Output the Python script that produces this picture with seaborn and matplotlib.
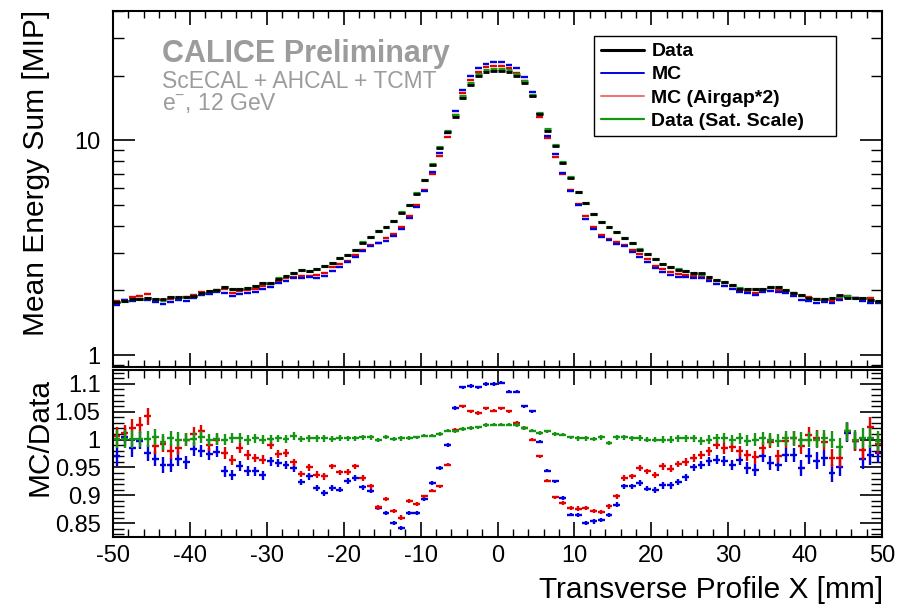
import numpy as np
import pandas as pd
import matplotlib
matplotlib.use("Agg")
import matplotlib.pyplot as plt
import seaborn as sns
from matplotlib.ticker import MultipleLocator, FixedLocator, LogLocator, NullFormatter, FuncFormatter
from matplotlib.lines import Line2D

# ---------------- data ----------------
x_min, x_max, bin_width = -50.0, 50.0, 1.0

data_sum = [1.77, 1.79, 1.82, 1.83, 1.84, 1.82, 1.82, 1.86, 1.86, 1.87,
            1.88, 1.94, 1.98, 2.01, 2.07, 2.02, 2.02, 2.06, 2.09, 2.17,
            2.17, 2.27, 2.33, 2.40, 2.48, 2.47, 2.51, 2.59, 2.69, 2.82,
            2.92, 3.07, 3.33, 3.55, 3.78, 3.93, 4.22, 4.61, 4.99, 5.65,
            6.52, 7.71, 9.21, 10.9, 12.9, 15.7, 18.1, 19.9, 20.7, 21.0,
            21.0, 20.7, 19.9, 18.5, 16.0, 13.3, 11.1, 9.38, 7.84, 6.70,
            5.75, 5.08, 4.53, 4.16, 3.96, 3.73, 3.50, 3.31, 3.10, 2.97,
            2.79, 2.65, 2.56, 2.50, 2.47, 2.41, 2.40, 2.30, 2.23, 2.19,
            2.12, 2.04, 2.04, 2.02, 2.02, 2.07, 2.07, 2.00, 1.94, 1.90,
            1.85, 1.82, 1.82, 1.85, 1.91, 1.85, 1.85, 1.85, 1.80, 1.79]

ratio_mc = [0.970, 1.005, 0.985, 0.998, 0.976, 0.966, 0.954, 0.954, 0.966, 0.959,
            0.983, 0.979, 0.974, 0.978, 0.943, 0.936, 0.952, 0.943, 0.943, 0.936,
            0.961, 0.958, 0.954, 0.949, 0.924, 0.934, 0.913, 0.904, 0.913, 0.910,
            0.926, 0.931, 0.914, 0.908, 0.877, 0.868, 0.850, 0.841, 0.868, 0.868,
            0.893, 0.922, 0.949, 0.990, 1.057, 1.094, 1.096, 1.094, 1.100, 1.100,
            1.102, 1.086, 1.086, 1.060, 1.051, 0.996, 0.944, 0.925, 0.895, 0.865,
            0.865, 0.850, 0.853, 0.856, 0.865, 0.883, 0.916, 0.916, 0.922, 0.912,
            0.909, 0.918, 0.918, 0.924, 0.932, 0.950, 0.955, 0.961, 0.964, 0.961,
            0.955, 0.964, 0.949, 0.946, 0.970, 0.958, 0.955, 0.972, 0.972, 0.949,
            0.970, 0.962, 0.967, 0.940, 0.950, 1.012, 0.997, 0.966, 0.972, 0.976]

ratio_airgap = [1.006, 1.011, 1.021, 1.026, 1.042, 0.988, 0.992, 0.979, 0.985, 1.000,
                1.010, 1.016, 0.990, 1.000, 0.976, 0.964, 0.985, 0.972, 0.967, 0.964,
                0.991, 0.974, 0.976, 0.959, 0.938, 0.950, 0.937, 0.934, 0.952, 0.941,
                0.942, 0.952, 0.931, 0.916, 0.878, 0.893, 0.872, 0.860, 0.890, 0.884,
                0.898, 0.908, 0.916, 0.955, 1.018, 1.060, 1.051, 1.048, 1.056, 1.052,
                1.056, 1.051, 1.030, 1.021, 1.000, 0.970, 0.926, 0.896, 0.886, 0.877,
                0.876, 0.877, 0.872, 0.870, 0.880, 0.898, 0.931, 0.934, 0.949, 0.943,
                0.936, 0.952, 0.948, 0.956, 0.960, 0.967, 0.972, 0.979, 0.991, 0.984,
                0.986, 0.979, 0.972, 0.968, 0.985, 0.996, 0.970, 0.997, 1.003, 0.988,
                1.009, 1.002, 0.996, 0.967, 0.967, 1.015, 0.997, 0.982, 1.022, 0.992]

ratio_sat = [1.001, 1.001, 1.001, 1.001, 1.001, 1.005, 0.996, 1.002, 1.000, 1.000,
             1.001, 1.004, 0.999, 1.001, 1.000, 1.002, 1.002, 1.000, 1.002, 1.000,
             1.001, 1.002, 1.001, 1.006, 1.001, 1.002, 1.002, 1.002, 1.001, 1.003,
             1.002, 1.002, 1.004, 1.004, 0.999, 1.005, 1.001, 1.002, 1.003, 1.004,
             1.007, 1.007, 1.010, 1.016, 1.015, 1.019, 1.021, 1.022, 1.026, 1.027,
             1.027, 1.027, 1.026, 1.021, 1.016, 1.012, 1.015, 1.010, 1.009, 1.004,
             1.002, 1.002, 1.001, 1.004, 0.994, 1.004, 1.004, 1.002, 1.003, 1.000,
             1.000, 1.000, 1.000, 1.002, 1.002, 1.002, 0.998, 1.000, 1.002, 1.002,
             1.000, 1.002, 0.998, 1.000, 1.002, 1.000, 0.998, 1.002, 1.002, 1.000,
             1.000, 1.000, 1.002, 1.000, 0.986, 1.015, 1.000, 1.002, 1.002, 0.997]

ratio_err = [0.017, 0.016, 0.016, 0.015, 0.015, 0.014, 0.014, 0.013, 0.013, 0.012,
             0.012, 0.011, 0.011, 0.010, 0.010, 0.009, 0.009, 0.009, 0.008, 0.008,
             0.008, 0.007, 0.007, 0.007, 0.006, 0.006, 0.006, 0.006, 0.005, 0.005,
             0.005, 0.005, 0.005, 0.004, 0.004, 0.004, 0.004, 0.004, 0.004, 0.003,
             0.003, 0.003, 0.003, 0.003, 0.003, 0.003, 0.003, 0.003, 0.003, 0.003,
             0.003, 0.003, 0.003, 0.003, 0.003, 0.003, 0.003, 0.003, 0.003, 0.003,
             0.004, 0.004, 0.004, 0.004, 0.004, 0.004, 0.005, 0.005, 0.005, 0.005,
             0.005, 0.006, 0.006, 0.006, 0.007, 0.007, 0.007, 0.008, 0.008, 0.009,
             0.009, 0.010, 0.010, 0.011, 0.011, 0.012, 0.012, 0.013, 0.013, 0.014,
             0.014, 0.015, 0.015, 0.016, 0.016, 0.017, 0.017, 0.018, 0.018, 0.018]

series_labels = ["Data", "MC", "MC (Airgap*2)", "Data (Sat. Scale)"]
series_colors = ["#000000", "#0000e6", "#e60000", "#149614"]

x_ticks_major = [-50, -40, -30, -20, -10, 0, 10, 20, 30, 40, 50]
ratio_ticks = [0.85, 0.9, 0.95, 1.0, 1.05, 1.1]
energy_ticks = [1, 10]

# ---------------- build table ----------------
n_bins = len(data_sum)
centers = x_min + bin_width * (np.arange(n_bins) + 0.5)
data_arr = np.array(data_sum)
df = pd.DataFrame({
    "x": centers,
    "Data": data_arr,
    "MC": data_arr * np.array(ratio_mc),
    "MC (Airgap*2)": data_arr * np.array(ratio_airgap),
    "Data (Sat. Scale)": data_arr * np.array(ratio_sat),
    "r_mc": ratio_mc, "r_air": ratio_airgap, "r_sat": ratio_sat, "err": ratio_err,
})

# ---------------- style ----------------
sns.set_theme(style="ticks", rc={
    "axes.edgecolor": "black", "xtick.color": "black", "ytick.color": "black",
    "text.color": "black", "axes.labelcolor": "black", "axes.linewidth": 1.5,
})
plt.rcParams["font.family"] = ["Liberation Sans", "DejaVu Sans"]
plt.rcParams["mathtext.fontset"] = "custom"
plt.rcParams["mathtext.rm"] = "Liberation Sans"
plt.rcParams["mathtext.it"] = "Liberation Sans:italic"

W, H = 902, 606
fig = plt.figure(figsize=(W / 100, H / 100), dpi=100)
ax1 = fig.add_axes([113 / W, 1 - 367 / H, 769 / W, 356 / H])
ax2 = fig.add_axes([113 / W, 1 - 537 / H, 769 / W, 167 / H])

half = 0.45 * bin_width

# top panel: histogram-style dashes
draw_top = [("MC (Airgap*2)", series_colors[2], 1.7),
            ("MC", series_colors[1], 1.7),
            ("Data (Sat. Scale)", series_colors[3], 2.3),
            ("Data", series_colors[0], 2.0)]
for col, color, lw in draw_top:
    ax1.errorbar(df["x"], df[col], xerr=half, fmt="none", ecolor=color,
                 elinewidth=lw, capsize=0)

ax1.set_yscale("log")
ax1.set_xlim(x_min, x_max)
ax1.set_ylim(0.88, 40)
ax1.yaxis.set_major_locator(FixedLocator(energy_ticks))
ax1.yaxis.set_minor_locator(LogLocator(base=10, subs=range(2, 10), numticks=20))
ax1.yaxis.set_major_formatter(FuncFormatter(lambda v, p: f"{v:g}"))
ax1.yaxis.set_minor_formatter(NullFormatter())
ax1.xaxis.set_major_locator(FixedLocator(x_ticks_major))
ax1.xaxis.set_minor_locator(MultipleLocator(2))
ax1.tick_params(axis="both", which="both", direction="in", top=True, right=True,
                labelbottom=False)
ax1.tick_params(axis="y", which="major", length=16, width=1.2, labelsize=17, pad=9)
ax1.tick_params(axis="y", which="minor", length=8, width=1.0)
ax1.tick_params(axis="x", which="major", length=10, width=1.2)
ax1.tick_params(axis="x", which="minor", length=5, width=1.0)

# ratio panel
for col, color in [("r_mc", series_colors[1]), ("r_air", series_colors[2]),
                   ("r_sat", series_colors[3])]:
    ax2.errorbar(df["x"], df[col], xerr=half, yerr=df["err"], fmt="none",
                 ecolor=color, elinewidth=1.7, capsize=0)

ax2.set_xlim(x_min, x_max)
ax2.set_ylim(0.825, 1.125)
ax2.yaxis.set_major_locator(FixedLocator(ratio_ticks))
ax2.yaxis.set_minor_locator(MultipleLocator(0.01))
ax2.yaxis.set_major_formatter(FuncFormatter(lambda v, p: f"{round(v, 3):g}"))
ax2.xaxis.set_major_locator(FixedLocator(x_ticks_major))
ax2.xaxis.set_minor_locator(MultipleLocator(2))
ax2.xaxis.set_major_formatter(FuncFormatter(lambda v, p: f"{v:g}"))
ax2.tick_params(axis="both", which="both", direction="in", top=True, right=True)
ax2.tick_params(axis="y", which="major", length=16, width=1.2, labelsize=17, pad=9)
ax2.tick_params(axis="y", which="minor", length=8, width=1.0)
ax2.tick_params(axis="x", which="major", length=11, width=1.2, labelsize=17, pad=6)
ax2.tick_params(axis="x", which="minor", length=6, width=1.0)

for ax in (ax1, ax2):
    for s in ax.spines.values():
        s.set_linewidth(1.5)
        s.set_color("black")

# axis titles (ROOT-like end alignment)
fig.text(36 / W, 1 - 10 / H, "Mean Energy Sum [MIP]", rotation=90,
         rotation_mode="anchor", ha="right", va="center", fontsize=21.5)
fig.text(40 / W, 1 - 378 / H, "MC/Data", rotation=90,
         rotation_mode="anchor", ha="right", va="center", fontsize=21.5)
fig.text(883 / W, 1 - 590 / H, "Transverse Profile X [mm]",
         ha="right", va="center", fontsize=21.5)

# CALICE labels
gray = "#9c9c9c"
ax1.text(162 / W, 1 - 62 / H, "CALICE Preliminary", transform=fig.transFigure,
         fontsize=22, fontweight="bold", color=gray, ha="left", va="baseline")
ax1.text(162 / W, 1 - 88 / H, "ScECAL + AHCAL + TCMT", transform=fig.transFigure,
         fontsize=16.5, color=gray, ha="left", va="baseline")
ax1.text(162 / W, 1 - 110 / H, r"e$^{-}$, 12 GeV", transform=fig.transFigure,
         fontsize=16.5, color=gray, ha="left", va="baseline")

# legend
handles = [Line2D([], [], color=series_colors[0], lw=2.2),
           Line2D([], [], color=series_colors[1], lw=1.4),
           Line2D([], [], color="#f07070", lw=1.4),
           Line2D([], [], color=series_colors[3], lw=1.6)]
leg = ax1.legend(handles, series_labels, loc="upper left",
                 bbox_to_anchor=(594 / W, 1 - 135 / H, 242 / W, 99 / H),
                 bbox_transform=fig.transFigure, mode="expand",
                 frameon=True, fancybox=False, framealpha=1, edgecolor="black",
                 prop={"weight": "bold", "size": 14}, handlelength=2.2,
                 handletextpad=0.4, borderpad=0.35, labelspacing=0.28,
                 borderaxespad=0)
leg.get_frame().set_linewidth(1.0)

fig.savefig("out.png", dpi=100)
